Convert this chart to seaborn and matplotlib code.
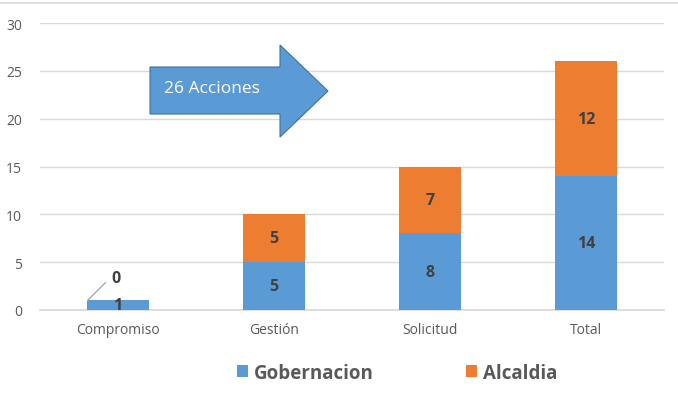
import numpy as np
import pandas as pd
import seaborn as sns
import matplotlib.pyplot as plt
from matplotlib.patches import Polygon
from matplotlib.lines import Line2D

categorias = ["Compromiso", "Gestión", "Solicitud", "Total"]
gobernacion = [1, 5, 8, 14]
alcaldia = [0, 5, 7, 12]
series = ["Gobernacion", "Alcaldia"]
colores = ["#5B9BD5", "#ED7D31"]
yticks = [0, 5, 10, 15, 20, 25, 30]
flecha_texto = "26 Acciones"

sns.set_theme(style="white")
plt.rcParams['font.family'] = ['Open Sans', 'DejaVu Sans']
gris = "#595959"

df = pd.DataFrame({"categoria": categorias, "Gobernacion": gobernacion, "Alcaldia": alcaldia})

fig = plt.figure(figsize=(6.78, 4.02), dpi=100)
ax = fig.add_axes([40 / 678, 1 - 311 / 402, 624 / 678, 287 / 402])

# stacked bars
sns.barplot(data=df, x="categoria", y="Gobernacion", color=colores[0], width=0.4,
            saturation=1, ax=ax, label=series[0], zorder=3, linewidth=0)
sns.barplot(data=df, x="categoria", y="Alcaldia", color=colores[1], width=0.4,
            saturation=1, ax=ax, label=series[1], bottom=df["Gobernacion"], zorder=3,
            linewidth=0)
h, l = ax.get_legend_handles_labels()
if ax.get_legend() is not None:
    ax.get_legend().remove()

ax.set_ylim(0, 30)
ax.set_yticks(yticks)
ax.set_xlim(-0.5, len(categorias) - 0.5)
ax.grid(axis="y", color="#D9D9D9", linewidth=1, zorder=0)
for s in ["top", "right", "left"]:
    ax.spines[s].set_visible(False)
ax.spines["bottom"].set_color("#D9D9D9")
ax.set_xlabel("")
ax.set_ylabel("")
ax.tick_params(axis="both", length=0, labelsize=10, labelcolor=gris)
ax.tick_params(axis="x", pad=9)
ax.tick_params(axis="y", pad=13)

# data labels
for i, (g, a) in enumerate(zip(gobernacion, alcaldia)):
    ax.text(i, g / 2, str(g), ha="center", va="center", fontsize=11.5,
            fontweight="bold", color="#404040", zorder=5)
    if a > 0:
        ax.text(i, g + a / 2, str(a), ha="center", va="center", fontsize=11.5,
                fontweight="bold", color="#404040", zorder=5)
    else:
        ax.annotate(str(a), xy=(i - 0.195, g), xytext=(i - 0.04, g + 2.3), ha="left",
                    va="center", fontsize=11.5, fontweight="bold", color="#404040", zorder=5,
                    arrowprops=dict(arrowstyle="-", color="#A6A6A6", lw=0.9,
                                    connectionstyle="angle,angleA=180,angleB=45,rad=0",
                                    shrinkA=3, shrinkB=0))

# arrow shape
pts = np.array([[150, 68], [280, 68], [280, 46], [328, 92], [280, 138], [280, 115], [150, 115]])
pts_fig = np.column_stack([pts[:, 0] / 678, 1 - pts[:, 1] / 402])
fig.patches.append(Polygon(pts_fig, closed=True, transform=fig.transFigure,
                           facecolor="#5B9BD5", edgecolor="#41719C", linewidth=0.8, zorder=6))
fig.text(164 / 678, 1 - 89 / 402, flecha_texto, ha="left", va="center", fontsize=12.5,
         color="white", zorder=7)

# frame line at top
fig.add_artist(Line2D([0, 1], [1 - 4 / 402, 1 - 4 / 402], color="#D9D9D9", lw=1.2,
                      transform=fig.transFigure))

# legend
fig.legend(h, l, loc="center", bbox_to_anchor=(397 / 678, 1 - 374 / 402), ncol=2,
           frameon=False, prop={"size": 13.5, "weight": "bold"}, labelcolor=gris,
           handlelength=0.6, handleheight=0.6, handletextpad=0.3, columnspacing=4.9)

fig.savefig("out.png", dpi=100)
